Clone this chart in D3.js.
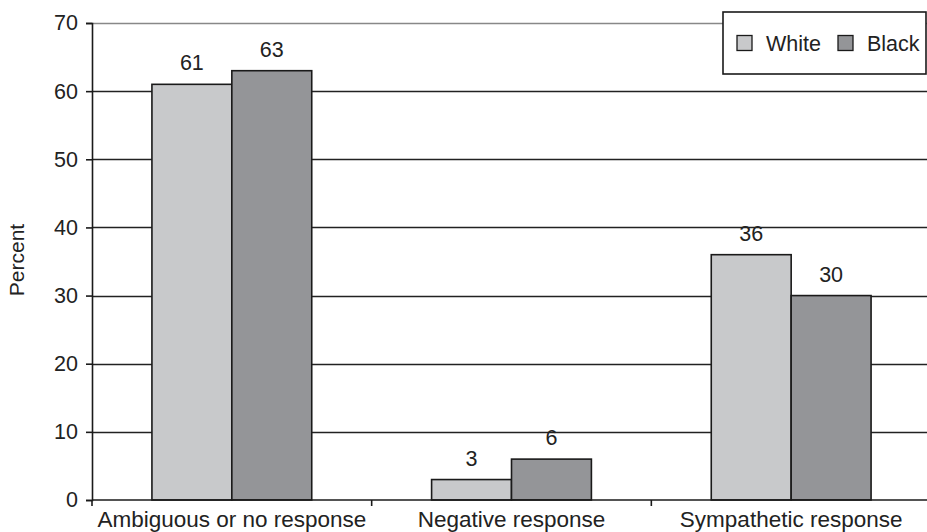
<!DOCTYPE html>
<html><head><meta charset="utf-8">
<script src="https://cdn.jsdelivr.net/npm/d3@7"></script>
<style>body{margin:0;background:#fff}svg{display:block}text{font-family:"Liberation Sans",Arial,sans-serif;fill:#222}</style>
</head><body><svg id="c" width="927" height="532"></svg>
<script>
const categories = ["Ambiguous or no response", "Negative response", "Sympathetic response"];
const seriesNames = ["White", "Black"];
const whiteValues = [61, 3, 36];
const blackValues = [63, 6, 30];
const yTicks = [0, 10, 20, 30, 40, 50, 60, 70];
const colors = ["#c8c9cb", "#949598"];

const FS = 21.5;
const FF = '"Liberation Sans",Arial,sans-serif';
const svg = d3.select("#c");
const m = {l: 92, t: 23, b: 500, r: 931};
const x = d3.scaleBand().domain(categories).range([m.l, m.r]).paddingInner(0).paddingOuter(0);
const y = d3.scaleLinear().domain([0, 70]).range([m.b, m.t]);
const inner = d3.scaleBand().domain(seriesNames).range([0, x.bandwidth()]).paddingInner(0).paddingOuter(0.75);

// gridlines
svg.append("g").selectAll("line").data(yTicks.filter(d => d > 0)).join("line")
  .attr("x1", m.l).attr("x2", m.r).attr("y1", d => Math.round(y(d)) + 0.5).attr("y2", d => Math.round(y(d)) + 0.5)
  .attr("stroke", d => d === 70 ? "#888" : "#222").attr("stroke-width", 1.3);

// bars
const data = [whiteValues, blackValues];
categories.forEach((c, i) => {
  seriesNames.forEach((s, j) => {
    const v = data[j][i];
    const bx = x(c) + inner(s);
    svg.append("rect").attr("x", bx).attr("y", y(v)).attr("width", inner.bandwidth()).attr("height", y(0) - y(v))
      .attr("fill", colors[j]).attr("stroke", "#1a1a1a").attr("stroke-width", 1.6);
    svg.append("text").attr("x", bx + inner.bandwidth() / 2).attr("y", y(v) - 14)
      .attr("text-anchor", "middle").attr("font-size", FS).text(v);
  });
});

// y axis
const ya = svg.append("g").attr("transform", `translate(${m.l},0)`)
  .call(d3.axisLeft(y).tickValues(yTicks).tickSize(6).tickPadding(8));
ya.select(".domain").attr("stroke", "#1a1a1a").attr("stroke-width", 1.6);
ya.selectAll(".tick line").attr("stroke", "#1a1a1a").attr("stroke-width", 1.6);
ya.selectAll("text").attr("font-size", FS).attr("fill", "#222").attr("font-family", FF);

// x axis
const xa = svg.append("g").attr("transform", `translate(0,${m.b})`)
  .call(d3.axisBottom(x).tickSize(0).tickPadding(11));
xa.select(".domain").remove();
svg.append("line").attr("x1", m.l).attr("x2", m.r).attr("y1", m.b).attr("y2", m.b).attr("stroke", "#1a1a1a").attr("stroke-width", 1.6);
xa.selectAll("text").attr("font-size", 22.5).attr("fill", "#222").attr("font-family", FF);
// category boundary ticks
svg.append("g").selectAll("line").data(categories).join("line")
  .attr("x1", d => x(d)).attr("x2", d => x(d)).attr("y1", m.b).attr("y2", m.b + 6)
  .attr("stroke", "#1a1a1a").attr("stroke-width", 1.6);

// y label
svg.append("text").attr("transform", "translate(24,260) rotate(-90)").attr("text-anchor", "middle")
  .attr("font-size", 21).text("Percent");

// legend
const lg = svg.append("g");
lg.append("rect").attr("x", 723).attr("y", 12).attr("width", 203).attr("height", 62)
  .attr("fill", "#fff").attr("stroke", "#1a1a1a").attr("stroke-width", 1.6);
const lx = [737, 838];
seriesNames.forEach((s, j) => {
  lg.append("rect").attr("x", lx[j]).attr("y", 35.5).attr("width", 15).attr("height", 15)
    .attr("fill", colors[j]).attr("stroke", "#1a1a1a").attr("stroke-width", 1.3);
  lg.append("text").attr("x", lx[j] + 29).attr("y", 51).attr("font-size", FS).text(s);
});
</script></body></html>
